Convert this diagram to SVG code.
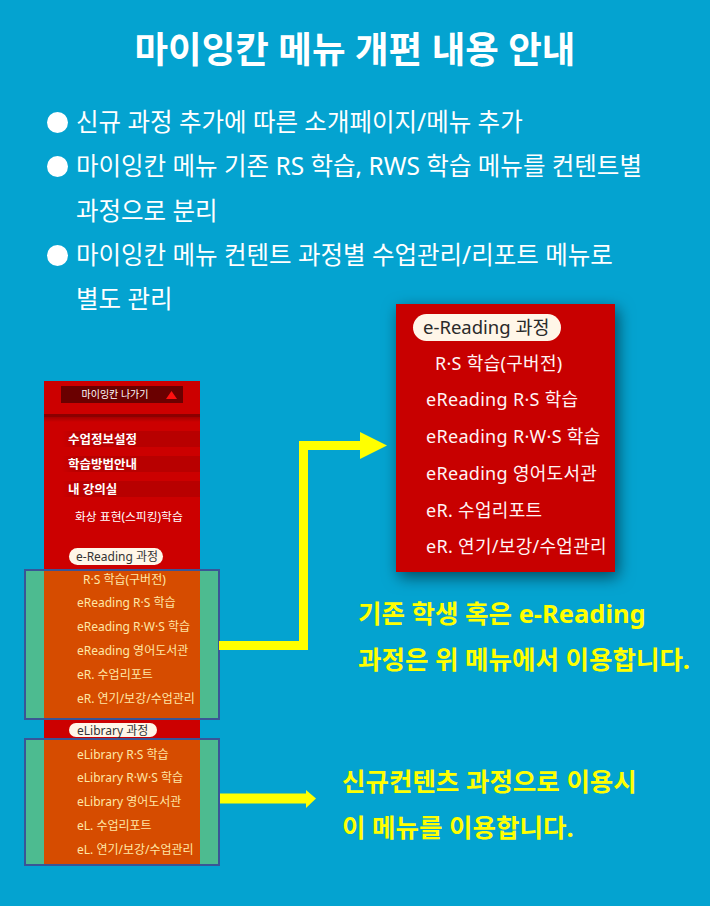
<svg xmlns="http://www.w3.org/2000/svg" width="710" height="906" viewBox="0 0 710 906">
<defs>
<style>
.t{font-family:'Noto Sans','Noto Sans CJK KR',sans-serif}
.title{font-size:36.5px;font-weight:bold;fill:#fff}
.bul{font-size:24.5px;fill:#fff}
.yl{font-size:25.5px;font-weight:bold;fill:#ffff00}
.rm{font-size:18px;fill:#fff4f4;letter-spacing:0.3px}
.pillR{font-size:18.5px;fill:#2a2a2a}
.lm{font-size:12px;fill:#ffe7a6}
.lw{font-size:12.5px;fill:#fff;font-weight:bold}
.lp{font-size:12px;fill:#333}
.grn{fill:#4dbb90;stroke:#3a5596;stroke-width:2}
.org{fill:#d64c00}
.pill{fill:#fff6e8}
</style>
<linearGradient id="rowg" x1="0" x2="1" y1="0" y2="0">
<stop offset="0" stop-color="#b80000" stop-opacity="0"/>
<stop offset="0.1" stop-color="#b80000"/>
<stop offset="1" stop-color="#b80000"/>
</linearGradient>
<linearGradient id="lineg" x1="0" x2="0" y1="0" y2="1">
<stop offset="0" stop-color="#7a0000"/>
<stop offset="1" stop-color="#cc0000"/>
</linearGradient>
<filter id="sh" x="-30%" y="-30%" width="160%" height="160%">
<feDropShadow dx="3" dy="5" stdDeviation="8" flood-color="#000" flood-opacity="0.55"/>
</filter>
</defs>
<rect width="710" height="906" fill="#04a3d0"/>

<g id="title">
<text class="t title" x="355" y="63" text-anchor="middle">마이잉칸 메뉴 개편 내용 안내</text>
</g>

<g id="bullets">
<circle cx="57.5" cy="122.5" r="10.5" fill="#fff"/>
<circle cx="57.5" cy="166.5" r="10.5" fill="#fff"/>
<circle cx="57.5" cy="255.5" r="10.5" fill="#fff"/>
<text class="t bul" x="76" y="131">신규 과정 추가에 따른 소개페이지/메뉴 추가</text>
<text class="t bul" x="76" y="175">마이잉칸 메뉴 기존 RS 학습, RWS 학습 메뉴를 컨텐트별</text>
<text class="t bul" x="76" y="220">과정으로 분리</text>
<text class="t bul" x="76" y="264">마이잉칸 메뉴 컨텐트 과정별 수업관리/리포트 메뉴로</text>
<text class="t bul" x="76" y="308">별도 관리</text>
</g>

<g id="left-menu">
<rect x="44" y="381" width="156" height="358" fill="#cc0000"/>
<rect x="61" y="386" width="122" height="17" fill="#6a0000"/>
<text class="t" x="115" y="398" text-anchor="middle" font-size="10" fill="#fff">마이잉칸  나가기</text>
<polygon points="166,399 171.5,391 177,399" fill="#ff1010"/>
<rect x="44" y="414" width="156" height="3" fill="#8a0000"/>
<rect x="44" y="417" width="156" height="5" fill="url(#lineg)" opacity="0.5"/>
<rect x="62" y="431" width="138" height="16" fill="url(#rowg)"/>
<rect x="62" y="456" width="138" height="16" fill="url(#rowg)"/>
<rect x="62" y="481" width="138" height="16" fill="url(#rowg)"/>
<text class="t lw" x="68" y="444">수업정보설정</text>
<text class="t lw" x="68" y="469">학습방법안내</text>
<text class="t lw" x="68" y="494">내 강의실</text>
<text class="t" x="75" y="521" font-size="11.8" fill="#fff">화상 표현(스피킹)학습</text>
<rect class="pill" x="69" y="548" width="94" height="17" rx="8.5"/>
<text class="t lp" x="76" y="561">e-Reading 과정</text>
</g>

<g id="ereading-group">
<rect class="grn" x="25" y="570" width="194" height="149"/>
<rect class="org" x="44" y="571" width="156" height="147"/>
<text class="t lm" x="83" y="584">R·S 학습(구버전)</text>
<text class="t lm" x="77" y="607">eReading R·S 학습</text>
<text class="t lm" x="77" y="631">eReading R·W·S 학습</text>
<text class="t lm" x="77" y="655">eReading 영어도서관</text>
<text class="t lm" x="77" y="679">eR. 수업리포트</text>
<text class="t lm" x="77" y="703">eR. 연기/보강/수업관리</text>
</g>

<g id="elibrary-label">
<rect class="pill" x="69" y="723" width="88" height="14" rx="7"/>
<text class="t lp" x="77" y="734.5">eLibrary 과정</text>
</g>

<g id="elibrary-group">
<rect class="grn" x="25" y="739" width="194" height="126"/>
<rect class="org" x="44" y="740" width="156" height="124"/>
<text class="t lm" x="77" y="759">eLibrary R·S 학습</text>
<text class="t lm" x="77" y="782">eLibrary R·W·S 학습</text>
<text class="t lm" x="77" y="806">eLibrary 영어도서관</text>
<text class="t lm" x="77" y="830">eL. 수업리포트</text>
<text class="t lm" x="77" y="854">eL. 연기/보강/수업관리</text>
</g>

<g id="right-menu">
<rect x="396" y="304" width="219" height="268" fill="#c80000" filter="url(#sh)"/>
<rect class="pill" x="413" y="314" width="148" height="27" rx="13.5"/>
<text class="t pillR" x="423" y="334">e-Reading 과정</text>
<text class="t rm" x="435" y="370">R·S 학습(구버전)</text>
<text class="t rm" x="426" y="406">eReading R·S 학습</text>
<text class="t rm" x="426" y="443">eReading R·W·S 학습</text>
<text class="t rm" x="426" y="480">eReading 영어도서관</text>
<text class="t rm" x="426" y="517">eR. 수업리포트</text>
<text class="t rm" x="426" y="553">eR. 연기/보강/수업관리</text>
</g>

<g id="connectors">
<path d="M219,645.5 H303.5 V445.5 H362" fill="none" stroke="#ffff00" stroke-width="9"/>
<polygon points="360,432 387,445.5 360,459" fill="#ffff00"/>
<rect x="220" y="793.5" width="87" height="10" fill="#ffff00"/>
<polygon points="306,790 316,798.5 306,808" fill="#ffff00"/>
</g>

<g id="notes">
<text class="t yl" x="358" y="623">기존 학생 혹은 e-Reading</text>
<text class="t yl" x="358" y="669">과정은 위 메뉴에서 이용합니다.</text>
<text class="t yl" x="342" y="791">신규컨텐츠 과정으로 이용시</text>
<text class="t yl" x="342" y="837">이 메뉴를 이용합니다.</text>
</g>
</svg>
